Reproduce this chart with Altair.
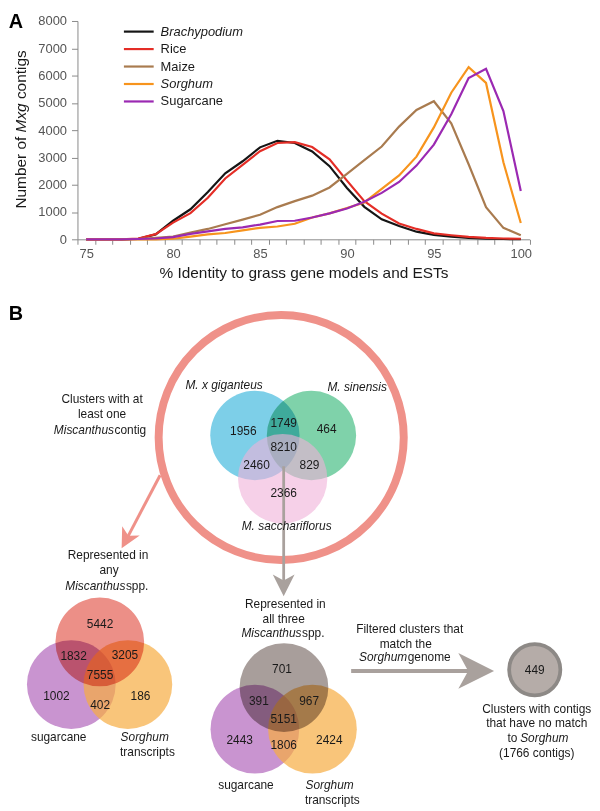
import altair as alt
import pandas as pd

FONT = "Liberation Sans"

# ---------------- Panel A data ----------------
identity = list(range(75, 101))
series_names = ["Brachypodium", "Rice", "Maize", "Sorghum", "Sugarcane"]
series_colors = ["#151515", "#e42d26", "#a97b4f", "#f7941d", "#9b29b2"]
series_italic = [True, False, False, True, False]

brachypodium = [0, 0, 0, 20, 180, 680, 1100, 1730, 2420, 2860, 3370, 3610, 3530, 3220, 2680, 1880, 1190, 730, 490, 280, 160, 100, 50, 20, 10, 5]
rice = [0, 0, 0, 30, 190, 610, 960, 1520, 2230, 2730, 3230, 3530, 3560, 3380, 2930, 2150, 1400, 940, 580, 380, 220, 150, 90, 50, 30, 20]
maize = [0, 0, 0, 10, 50, 100, 250, 380, 550, 720, 900, 1180, 1400, 1600, 1900, 2400, 2900, 3400, 4130, 4740, 5060, 4250, 2750, 1180, 420, 150]
sorghum = [0, 0, 0, 0, 0, 20, 100, 180, 230, 330, 420, 470, 570, 800, 950, 1150, 1350, 1850, 2340, 3030, 4100, 5370, 6310, 5730, 2820, 600]
sugarcane = [0, 0, 0, 10, 30, 80, 200, 290, 380, 440, 540, 670, 680, 800, 950, 1130, 1380, 1700, 2100, 2700, 3470, 4580, 5910, 6250, 4700, 1770]
y_ticks = [0, 1000, 2000, 3000, 4000, 5000, 6000, 7000, 8000]

# ---------------- Panel B data ----------------
venn_counts_top = [1956, 1749, 464, 8210, 2460, 829, 2366]
venn_counts_any = [5442, 1832, 3205, 7555, 1002, 402, 186]
venn_counts_all = [701, 391, 967, 5151, 2443, 1806, 2424]
no_match_clusters = 449
no_match_contigs = 1766

# ---------------- layout (pixel positions, page coordinates) ----------------
OX, OY = 77.2, 19.3          # plot-area origin of panel A
PW, PH = 455.5, 220.0        # plot-area size of panel A

top_count_pos = [(244.3, 432.7), (285, 424.3), (328.3, 430.7), (285, 448.3), (257.7, 466.7), (311, 466.7), (285, 495)]
any_count_pos = [(100, 627.3), (73.3, 659.3), (125, 658.3), (100, 678.3), (56, 699.3), (100, 708.3), (140.7, 700)]
all_count_pos = [(283.3, 672.3), (260, 704.3), (310.7, 705), (285, 722.3), (240.7, 744), (285, 749), (331, 744)]

circles_normal = [
    dict(x=256, y=437, r=45, fill="#7dcfe8", op=1.0),
    dict(x=71, y=688, r=44.7, fill="#c994d0", op=1.0),
    dict(x=256, y=733, r=44.7, fill="#c994d0", op=1.0),
    dict(x=128, y=688, r=44.7, fill="#f6ac41", op=0.7),
    dict(x=314, y=733, r=44.7, fill="#f6ac41", op=0.7),
]
circles_multiply = [
    dict(x=313, y=437, r=45, fill="#7fd2aa"),
    dict(x=99.7, y=645, r=44.7, fill="#ec8f87"),
    dict(x=285.3, y=691, r=44.7, fill="#a89e9b"),
]
circles_over = [dict(x=284, y=480.5, r=45, fill="#f0b0d8", op=0.6)]

GRAY = "#a9a19d"
SALMON = "#ef9189"
arrow_lines = [
    dict(x1=285, y1=468, x2=285, y2=589, w=2.8, c=GRAY),
    dict(x1=160.5, y1=477, x2=126.4, y2=541.9, w=3.0, c=SALMON),
    dict(x1=353, y1=674.3, x2=472, y2=674.3, w=4.0, c=GRAY),
]
arrow_heads = [
    dict(x=285, y=588, L=22, angle=0, c=GRAY),
    dict(x=126.4, y=541.9, L=20, angle=28, c=SALMON),
    dict(x=479, y=674.3, L=36, angle=270, c=GRAY),
]
ARROW_SHAPE = "M0,1L-1,-1L0,-0.45L1,-1Z"

legend_x1, legend_x2, legend_label_x = 124, 154, 161
legend_y = [30, 47.6, 65.2, 82.8, 100.4]

# ---------------- helpers ----------------
px_x = alt.Scale(domain=[OX, OX + PW], nice=False, zero=False)
px_y = alt.Scale(domain=[OY, OY + PH], nice=False, zero=False, reverse=True)


def PX(f):
    return alt.X(f"{f}:Q", scale=px_x, axis=None)


def PY(f):
    return alt.Y(f"{f}:Q", scale=px_y, axis=None)


color_scale = alt.Scale(domain=series_names, range=series_colors)

# ---------------- Panel A lines ----------------
rows = []
for name, vals in zip(series_names, [brachypodium, rice, maize, sorghum, sugarcane]):
    for xv, v in zip(identity, vals):
        rows.append({"identity": xv, "contigs": v, "series": name})
lines_df = pd.DataFrame(rows)

x_axis_values = [74.5 + 0.5 * i for i in range(53)]

lines = alt.Chart(lines_df).mark_line(strokeWidth=2.2).encode(
    x=alt.X(
        "identity:Q",
        scale=alt.Scale(domain=[74.5, 100.5], nice=False, zero=False),
        axis=alt.Axis(
            values=x_axis_values,
            labelExpr="datum.value % 5 == 0 ? format(datum.value, 'd') : ''",
            tickOpacity={"condition": {"test": "datum.value % 1 == 0", "value": 0}, "value": 1},
            tickSize=5, labelPadding=3, labelOverlap=False, labelFlush=False,
            title="% Identity to grass gene models and ESTs", titlePadding=5,
            grid=False,
        ),
    ),
    y=alt.Y(
        "contigs:Q",
        scale=alt.Scale(domain=[0, 8000], nice=False),
        axis=alt.Axis(values=y_ticks, format="d", tickSize=6, labelPadding=5,
                      title=None, grid=False, labelOverlap=False, labelFlush=False),
    ),
    color=alt.Color("series:N", scale=color_scale, legend=None),
)

layers = [lines]

# legend (rules + labels)
leg_df = pd.DataFrame({
    "series": series_names,
    "x1": [legend_x1] * 5, "x2": [legend_x2] * 5,
    "y": legend_y,
})
layers.append(
    alt.Chart(leg_df).mark_rule(strokeWidth=2.2).encode(
        x=PX("x1"), x2=alt.X2("x2:Q"), y=PY("y"),
        color=alt.Color("series:N", scale=color_scale, legend=None),
    )
)

# ---------------- Panel B shapes ----------------
ring_df = pd.DataFrame([{"x": 282.5, "y": 439, "s": (2 * 123.5) ** 2}])
layers.append(
    alt.Chart(ring_df).mark_point(shape="circle", filled=False, strokeWidth=8, color=SALMON, opacity=1).encode(
        x=PX("x"), y=PY("y"), size=alt.Size("s:Q", scale=None)
    )
)


def circ_df(lst):
    return pd.DataFrame([{**d, "s": (2 * d["r"]) ** 2} for d in lst])


layers.append(
    alt.Chart(circ_df(circles_normal)).mark_circle(strokeWidth=0).encode(
        x=PX("x"), y=PY("y"), size=alt.Size("s:Q", scale=None),
        fill=alt.Fill("fill:N", scale=None), opacity=alt.Opacity("op:Q", scale=None),
    )
)
layers.append(
    alt.Chart(circ_df(circles_multiply)).mark_circle(strokeWidth=0, opacity=1, blend="multiply").encode(
        x=PX("x"), y=PY("y"), size=alt.Size("s:Q", scale=None),
        fill=alt.Fill("fill:N", scale=None),
    )
)
layers.append(
    alt.Chart(circ_df(circles_over)).mark_circle(strokeWidth=0).encode(
        x=PX("x"), y=PY("y"), size=alt.Size("s:Q", scale=None),
        fill=alt.Fill("fill:N", scale=None), opacity=alt.Opacity("op:Q", scale=None),
    )
)

# no-match circle
nm_df = pd.DataFrame([{"x": 538, "y": 673, "s": (2 * 25.8) ** 2}])
layers.append(
    alt.Chart(nm_df).mark_point(shape="circle", filled=True, fill="#b5aca8", stroke="#8d8986",
                                strokeWidth=3.8, opacity=1).encode(
        x=PX("x"), y=PY("y"), size=alt.Size("s:Q", scale=None)
    )
)

# arrows
layers.append(
    alt.Chart(pd.DataFrame(arrow_lines)).mark_rule(strokeCap="butt").encode(
        x=PX("x1"), y=PY("y1"), x2=alt.X2("x2:Q"), y2=alt.Y2("y2:Q"),
        stroke=alt.Stroke("c:N", scale=None), strokeWidth=alt.StrokeWidth("w:Q", scale=None),
    )
)
heads_df = pd.DataFrame([{**d, "s": d["L"] ** 2} for d in arrow_heads])
layers.append(
    alt.Chart(heads_df).mark_point(shape=ARROW_SHAPE, filled=True, strokeWidth=0, opacity=1).encode(
        x=PX("x"), y=PY("y"), size=alt.Size("s:Q", scale=None),
        angle=alt.Angle("angle:Q", scale=None), fill=alt.Fill("c:N", scale=None),
    )
)

# ---------------- texts ----------------
T = []
T += [("A", 8, 20, "panel"), ("B", 8, 315, "panel")]
T += [(str(v), p[0], p[1], "num") for v, p in zip(venn_counts_top, top_count_pos)]
T += [(str(v), p[0], p[1], "num") for v, p in zip(venn_counts_any, any_count_pos)]
T += [(str(v), p[0], p[1], "num") for v, p in zip(venn_counts_all, all_count_pos)]
T += [
    ("M. x giganteus", 225, 386, "ci"), ("M. sinensis", 359, 388.3, "ci"), ("M. sacchariflorus", 288, 528.3, "ci"),
    ("Clusters with at", 102, 400, "c"), ("least one", 102, 415.5, "c"),
    ("Miscanthus", 114, 431, "ri"), ("contig", 114.5, 431, "l"),
    ("Represented in", 108, 557.5, "c"), ("any", 109, 573, "c"),
    ("Miscanthus", 125.5, 589, "ri"), ("spp.", 126, 589, "l"),
    ("sugarcane", 58.3, 740.7, "c"), ("Sorghum", 145, 740.7, "ci"), ("transcripts", 147.7, 755.7, "c"),
    ("Represented in", 286.7, 607.3, "c"), ("all three", 285, 621.7, "c"),
    ("Miscanthus", 303, 635.7, "ri"), ("spp.", 303.5, 635.7, "l"),
    ("sugarcane", 247, 789.3, "c"), ("Sorghum", 331.3, 789.3, "ci"), ("transcripts", 334, 804.3, "c"),
    ("Filtered clusters that", 412, 631.7, "c"), ("match the", 408, 646.7, "c"),
    ("Sorghum", 409.5, 660.7, "ri"), ("genome", 410, 660.7, "l"),
    (str(no_match_clusters), 538, 673, "num"),
    ("Clusters with contigs", 540, 712.3, "c"), ("that have no match", 540, 726.7, "c"),
    ("to", 520.5, 741.7, "r"), ("Sorghum", 523.3, 741.7, "li"),
    (f"({no_match_contigs} contigs)", 540, 756.7, "c"),
    ("Number of", 25.3, 208.3, "yt"), ("Mxg", 25.3, 131.6, "yti"), ("contigs", 25.3, 98.0, "yt"),
]
T += [(n, legend_label_x, yv, "legi" if it else "leg") for n, yv, it in zip(series_names, legend_y, series_italic)]

base_t = dict(font=FONT, color="#1a1a1a", fontSize=12, baseline="middle")
STYLES = {
    "num": dict(align="center"),
    "c": dict(align="center"),
    "ci": dict(align="center", fontStyle="italic"),
    "ri": dict(align="right", fontStyle="italic"),
    "l": dict(align="left"),
    "r": dict(align="right"),
    "li": dict(align="left", fontStyle="italic"),
    "panel": dict(align="left", fontSize=20, fontWeight="bold", color="#000000"),
    "leg": dict(align="left", fontSize=13),
    "legi": dict(align="left", fontSize=13, fontStyle="italic"),
    "yt": dict(align="left", baseline="alphabetic", angle=270, fontSize=15.5),
    "yti": dict(align="left", baseline="alphabetic", angle=270, fontSize=15.5, fontStyle="italic"),
}

text_df = pd.DataFrame(T, columns=["text", "x", "y", "style"])
for st, props in STYLES.items():
    sub = text_df[text_df["style"] == st]
    if len(sub) == 0:
        continue
    layers.append(
        alt.Chart(sub).mark_text(**{**base_t, **props}).encode(
            x=PX("x"), y=PY("y"), text="text:N"
        )
    )

chart = (
    alt.layer(*layers)
    .resolve_scale(x="independent", y="independent")
    .properties(width=PW, height=PH, padding=0)
    .configure_view(stroke=None)
    .configure_axis(
        labelFont=FONT, titleFont=FONT, labelFontSize=13, labelColor="#555555",
        titleFontSize=15.5, titleFontWeight="normal", titleColor="#1a1a1a",
        domainColor="#8a8a8a", tickColor="#8a8a8a", domainWidth=1, tickWidth=1,
    )
)

chart.save("out.html", embed_options={"renderer": "svg", "actions": False})
